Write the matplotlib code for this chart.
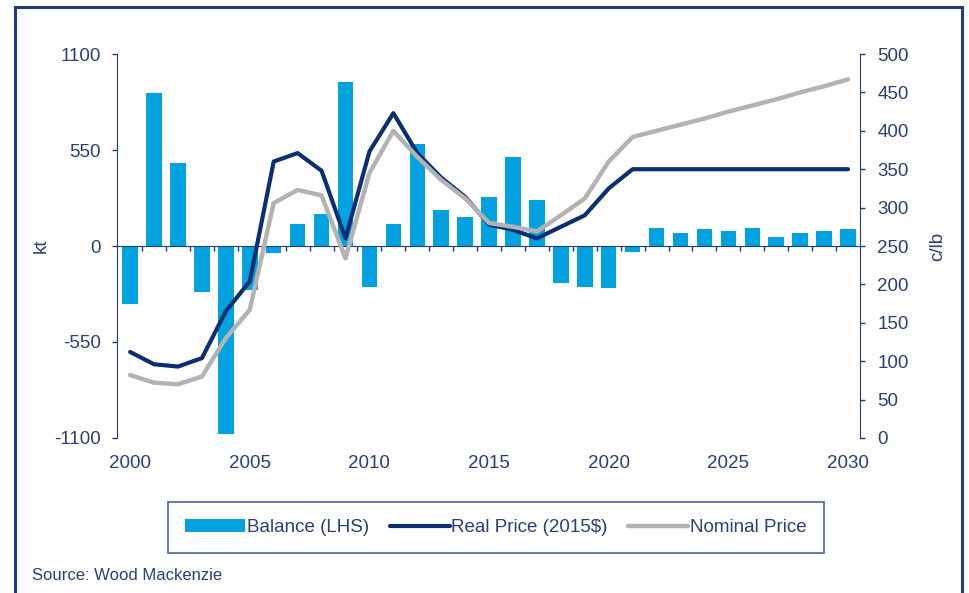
import numpy as np
import matplotlib
matplotlib.use('Agg')
import matplotlib.pyplot as plt
from matplotlib.patches import Rectangle

# data
years = list(range(2000, 2031))
balance = [-330, 875, 474, -262, -1080, -252, -38, 124, 183, 942,
           -237, 126, 583, 208, 164, 279, 512, 264, -210, -233,
           -243, -32, 101, 73, 97, 88, 101, 53, 73, 88, 97]
real_price = [112, 96, 93, 104, 165, 204, 360, 371, 348, 260,
              373, 423, 371, 339, 314, 278, 271, 260, 275, 290,
              325, 350, 350, 350, 350, 350, 350, 350, 350, 350, 350]
nominal_price = [82, 72, 70, 80, 130, 167, 306, 323, 316, 234,
                 345, 400, 366, 336, 312, 280, 275, 269, 290, 312,
                 360, 392, 400, 408, 416, 425, 433, 441, 450, 458, 467]
left_ticks = [-1100, -550, 0, 550, 1100]
right_ticks = list(range(0, 501, 50))
year_ticks = [2000, 2005, 2010, 2015, 2020, 2025, 2030]

NAVY = '#1f3c84'
TXT = '#2a3f7c'
FS = 13.5
plt.rcParams['font.family'] = ['Liberation Sans', 'DejaVu Sans']

fig = plt.figure(figsize=(9.69, 5.93), dpi=100)
ax = fig.add_axes([0.1207, 0.2614, 0.8875 - 0.1207, 0.9089 - 0.2614])

bars = ax.bar(years, balance, width=0.65, color='#00a3e0', label='Balance (LHS)', zorder=2)
ax.set_xlim(1999.45, 2030.5)
ax.set_ylim(-1100, 1100)
ax.set_yticks(left_ticks)
ax.set_yticklabels([str(t) for t in left_ticks])

# category axis sits on the zero line, tick marks between bars
ax.spines['bottom'].set_position(('data', 0))
ax.spines['bottom'].set_color(NAVY)
ax.set_xticks([y + 0.5 for y in years[:-1]])
ax.set_xticklabels([])
ax.tick_params(axis='x', direction='out', length=3.5, width=1, color=NAVY)

# year labels along the bottom
sec = ax.secondary_xaxis('bottom')
sec.set_xticks(year_ticks)
sec.tick_params(length=0, pad=12, labelsize=FS, labelcolor=TXT)
sec.spines['bottom'].set_visible(False)

ax.tick_params(axis='y', direction='out', length=3.6, width=1, color=NAVY, pad=8,
               labelsize=FS, labelcolor=TXT)
for s in ['top', 'right']:
    ax.spines[s].set_visible(False)
ax.spines['left'].set_color(NAVY)
ax.set_ylabel('kt', fontsize=FS, color=TXT)
ax.yaxis.set_label_coords(-0.09, 0.5)

ax2 = ax.twinx()
l1, = ax2.plot(years, real_price, color='#0b2f73', lw=3, label='Real Price (2015$)',
               solid_capstyle='round')
l2, = ax2.plot(years, nominal_price, color='#b3b3b3', lw=3.2, label='Nominal Price',
               solid_capstyle='round')
ax2.set_ylim(0, 500)
ax2.set_yticks(right_ticks)
ax2.tick_params(axis='y', direction='out', length=3.6, width=1, color=NAVY, pad=9,
                labelsize=FS, labelcolor=TXT)
for s in ['top', 'left', 'bottom']:
    ax2.spines[s].set_visible(False)
ax2.spines['right'].set_color(NAVY)
ax2.set_ylabel('c/lb', fontsize=FS, color=TXT)
ax2.yaxis.set_label_coords(1.093, 0.5)

leg = fig.legend([bars, l1, l2], ['Balance (LHS)', 'Real Price (2015$)', 'Nominal Price'],
                 loc='center', bbox_to_anchor=(0.1775, 0.0607, 0.6687, 0.0995),
                 ncol=3, fontsize=FS, frameon=True, fancybox=False, handlelength=3.2,
                 handletextpad=0.1, columnspacing=1.1, borderpad=0.9)
leg.get_frame().set_edgecolor(NAVY)
leg.get_frame().set_linewidth(1.2)
for t in leg.get_texts():
    t.set_color(TXT)

fig.text(0.033, 0.030, 'Source: Wood Mackenzie', fontsize=12, color=TXT, va='center')

fig.patches.append(Rectangle((15 / 969, -0.05), (962 - 15) / 969, 1 - 7 / 593 + 0.05,
                             transform=fig.transFigure, fill=False, edgecolor=NAVY, lw=2.2))

fig.savefig('out.png', dpi=100)
